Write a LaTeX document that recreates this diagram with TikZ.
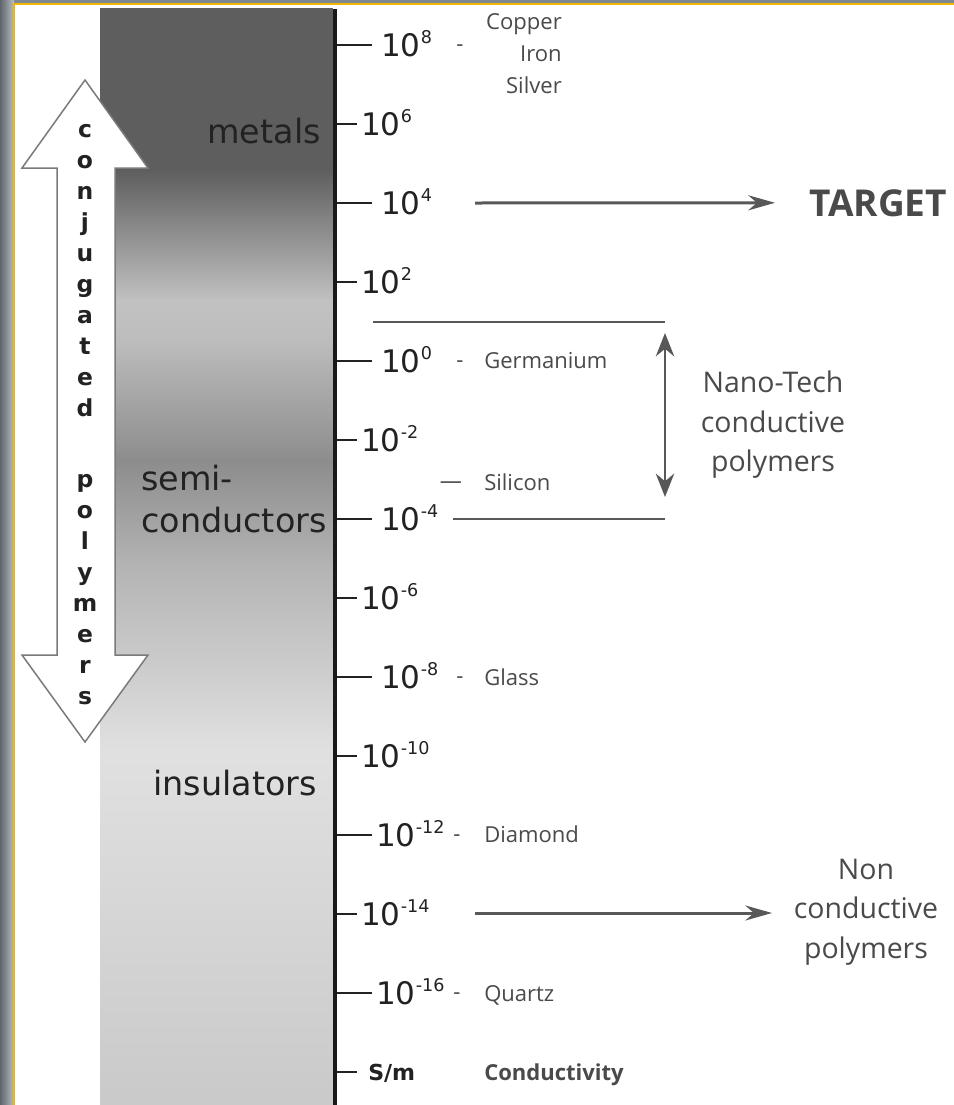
\documentclass[tikz,border=0pt]{standalone}
\usepackage{fontspec}
\setmainfont{DejaVu Sans}
\newfontfamily\labfont{Open Sans}
\usetikzlibrary{arrows.meta}
\definecolor{framey}{HTML}{F2B705}
\definecolor{photo}{HTML}{7E878F}
\definecolor{ink}{HTML}{222222}
\definecolor{lbl}{HTML}{4A4A4A}
\definecolor{lineg}{HTML}{585858}
\definecolor{arrowg}{HTML}{7A7A7A}
\newcommand\pw[1]{10\raisebox{11pt}{\fontsize{15}{15}\selectfont#1}}
\begin{document}
\begin{tikzpicture}[x=.3mm,y=-.3mm,>=Stealth,line width=.75mm,
  cjl/.style={anchor=base,inner sep=0,text=ink,font=\bfseries\fontsize{20}{20}\selectfont},
  pwr/.style={anchor=base west,inner sep=0,text=ink,font=\fontsize{26.5}{30}\selectfont},
  cls/.style={inner sep=0,text=ink,font=\fontsize{28.5}{34}\selectfont},
  mat/.style={anchor=base west,inner sep=0,text=lbl,font=\labfont\fontsize{18.8}{27.3}\selectfont},
  dsh/.style={anchor=base,inner sep=0,text=lbl,font=\labfont\fontsize{18.8}{20}\selectfont},
  grp/.style={inner sep=0,align=center,text=lbl,font=\labfont\fontsize{24.3}{33.7}\selectfont},
  tick/.style={draw=ink,line width=.75mm},
  hline/.style={draw=lineg,line width=.75mm},
  ptr/.style={draw=lineg,line width=.9mm,-{Stealth[length=8mm,width=4.5mm]}},
  dptr/.style={draw=lineg,line width=.75mm,{Stealth[length=7mm,width=5.5mm]}-{Stealth[length=7mm,width=5.5mm]}}]
  \useasboundingbox (0,0) rectangle (954,1105);
  \fill[photo] (0,0) rectangle (954,1105);
  \shade[left color=photo!75!black,right color=photo!55!white] (0,0) rectangle (14,1105);
  \filldraw[fill=white,draw=framey,line width=.6mm] (14,4) rectangle (990,1140);
  \fill[black!63] (100,8) rectangle (333,172);
  \shade[top color=black!63,bottom color=black!24] (100,170) rectangle (333,302);
  \shade[top color=black!24,bottom color=black!26] (100,300) rectangle (333,342);
  \shade[top color=black!26,bottom color=black!45] (100,340) rectangle (333,462);
  \shade[top color=black!45,bottom color=black!30] (100,460) rectangle (333,562);
  \shade[top color=black!30,bottom color=black!12] (100,560) rectangle (333,752);
  \shade[top color=black!12,bottom color=black!21] (100,750) rectangle (333,1105);
  \filldraw[fill=white,draw=arrowg,line width=.45mm] (85,80) -- (148,168) -- (115,168)
    -- (115,655) -- (148,655) -- (85,742) -- (22,655) -- (57,655) -- (57,168) -- (22,168) -- cycle;
  \foreach \ch [count=\i from 0] in {c,o,n,j,u,g,a,t,e,d}
    \node[cjl] (cj\i) at (85,137+31*\i) {\ch};
  \foreach \ch [count=\i from 0] in {p,o,l,y,m,e,r,s}
    \node[cjl] (pl\i) at (85,487+31*\i) {\ch};
  \node[cls,anchor=base east] (metals) at (322,143) {metals};
  \node[cls,anchor=base west] (semi) at (140,490) {semi-};
  \node[cls,anchor=base west] (cond) at (140,532) {conductors};
  \node[cls,anchor=base west] (insul) at (152,795) {insulators};
  \foreach \k/\e/\len/\lx in {0/8/37/380,1/6/22/360,2/4/37/380,3/2/22/360,4/0/37/380,
      5/-2/22/360,6/-4/37/380,7/-6/22/360,8/-8/37/380,9/-10/22/360,10/-12/37/375,
      11/-14/22/360,12/-16/37/375}{
    \coordinate (a\k) at (335,45+79*\k);
    \draw[tick] (a\k) -- ++(\len,0);
    \node[pwr] (p\k) at (\lx,56.3+79*\k) {\pw{\e}};
  }
  \coordinate (a13) at (335,1072);
  \draw[tick] (a13) -- ++(22,0);
  \node[anchor=base west,inner sep=0,text=ink,font=\bfseries\fontsize{18.8}{20}\selectfont] (sm) at (367,1080) {S/m};
  \draw[draw=black!90,line width=1.2mm] (335,9) -- (335,1105);
  \foreach \k/\dx in {0/460,4/460,8/460,10/457,12/457}
    \node[dsh] (dd\k) at (\dx,51+79*\k) {-};
  \node[dsh] (sidash) at (451,488) {—};
  \node[mat,anchor=north east,align=right] (cis) at (563,12) {Copper\\Iron\\Silver};
  \node[mat] (germ) at (483,368) {Germanium};
  \node[mat] (sili) at (483,490) {Silicon};
  \node[mat] (glass) at (483,685) {Glass};
  \node[mat] (diam) at (483,842) {Diamond};
  \node[mat] (quartz) at (483,1001) {Quartz};
  \node[mat,font=\labfont\bfseries\fontsize{18.8}{20}\selectfont] (condy) at (483,1080) {Conductivity};
  \coordinate (nt1) at (373,322);
  \coordinate (nt2) at (665,322);
  \coordinate (nb1) at (453,519);
  \coordinate (nb2) at (665,519);
  \draw[hline] (nt1) -- (nt2);
  \draw[hline] (nb1) -- (nb2);
  \draw[dptr,shorten <=3.3mm,shorten >=6.6mm] (nt2) -- (nb2);
  \node[grp] (nano) at (773,425) {Nano-Tech\\conductive\\polymers};
  \node[anchor=base west,inner sep=0,text=lbl,font=\labfont\bfseries\fontsize{31.6}{34}\selectfont] (target) at (808,216) {TARGET};
  \coordinate (tgs) at (475,203);
  \draw[ptr,shorten >=9.9mm] (tgs) -- (target.west);
  \node[grp] (ncp) at (866,912) {Non\\conductive\\polymers};
  \coordinate (ncs) at (475,913);
  \draw[ptr] (ncs) -- (772,913);
\end{tikzpicture}
\end{document}
